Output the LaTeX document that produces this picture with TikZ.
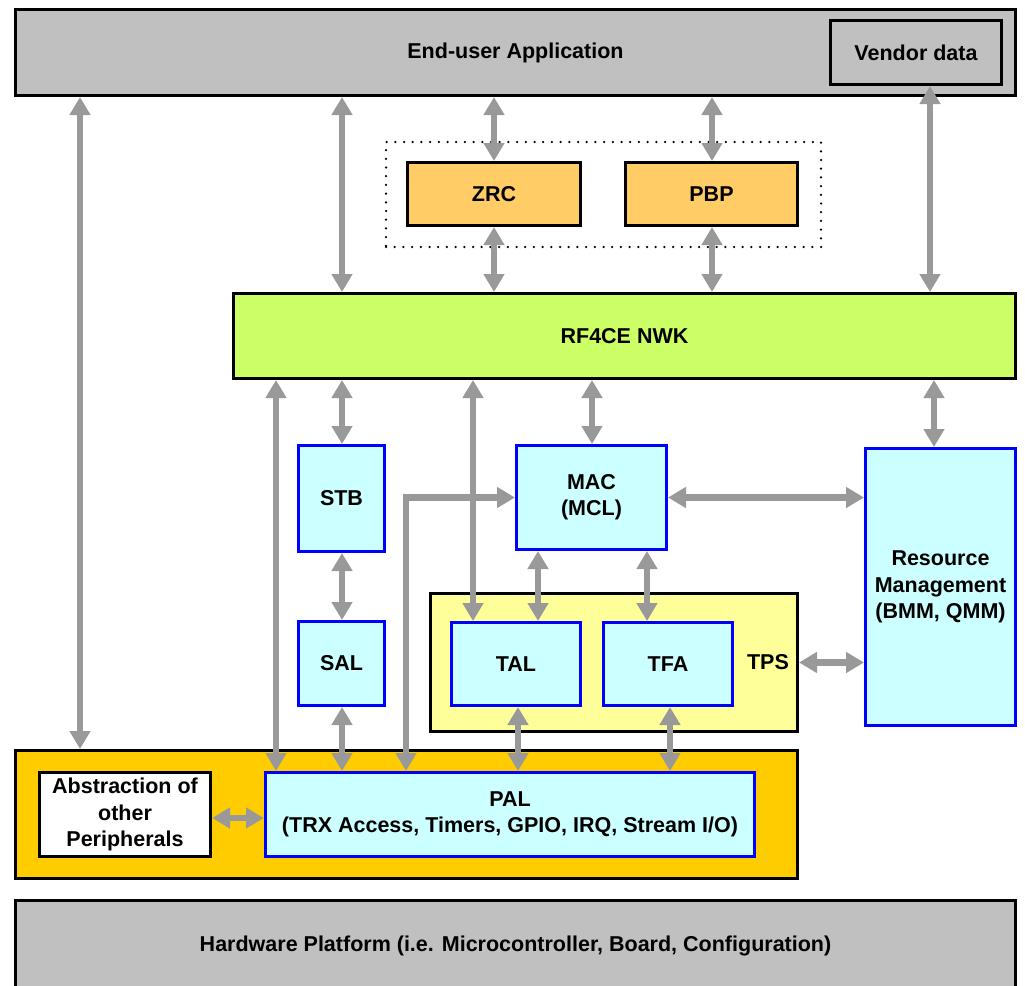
\documentclass[tikz,border=0pt]{standalone}
\usepackage{fontspec}
\setmainfont{Liberation Sans}
\usetikzlibrary{arrows.meta}
\definecolor{appgray}{HTML}{C0C0C0}
\definecolor{zrcorange}{HTML}{FFCC66}
\definecolor{nwkgreen}{HTML}{CCFF66}
\definecolor{lcyan}{HTML}{CCFFFF}
\definecolor{bblue}{HTML}{0000FF}
\definecolor{tpsyellow}{HTML}{FFFF99}
\definecolor{baseorange}{HTML}{FFCC00}
\definecolor{arrgray}{HTML}{999999}
\begin{document}
\begin{tikzpicture}[x=1pt,y=-1pt,
  box/.style={draw=black, line width=3pt, inner sep=0pt, align=center, text=black,
    font=\fontsize{21.5}{26.3}\selectfont\bfseries},
  bluebox/.style={box, draw=bblue, fill=lcyan},
  arr/.style={draw=arrgray, line width=6.5pt,
    {Triangle[length=18pt,width=20pt]}-{Triangle[length=18pt,width=20pt]}},
  grpbox/.style={draw=black, line width=2.5pt, line cap=round, dash pattern=on 0pt off 8.7pt, inner sep=0pt}
]
\useasboundingbox (0,0) rectangle (1025,985);
% boxes
\node[box, fill=appgray, minimum width=1000pt, minimum height=86pt] (app) at (515.5,52.5) {End-user Application};
\node[box, fill=appgray, minimum width=171pt, minimum height=64pt] (vendor) at (916,52.5) {Vendor data};
\node[grpbox, minimum width=435pt, minimum height=105pt] (grp) at (603.5,194.5) {};
\node[box, fill=zrcorange, minimum width=173pt, minimum height=63pt] (zrc) at (494,194) {ZRC};
\node[box, fill=zrcorange, minimum width=172pt, minimum height=63pt] (pbp) at (711.5,194) {PBP};
\node[box, fill=nwkgreen, minimum width=782pt, minimum height=85pt] (nwk) at (624.5,336) {RF4CE NWK};
\node[bluebox, minimum width=86pt, minimum height=106pt] (stb) at (341.5,498.5) {STB};
\node[bluebox, minimum width=86pt, minimum height=84pt] (sal) at (341.5,663.5) {SAL};
\node[bluebox, minimum width=150pt, minimum height=104pt] (mac) at (591.5,497.5) {MAC\\(MCL)};
\node[bluebox, minimum width=150pt, minimum height=277pt] (rm) at (940.5,587) {Resource\\Management\\(BMM, QMM)};
\node[box, fill=tpsyellow, minimum width=367pt, minimum height=138pt] (tps) at (614,662.5) {};
\node[box, draw=none, fill=none] (tpslbl) at (768,662) {TPS};
\node[bluebox, minimum width=129pt, minimum height=83pt] (tal) at (516,664) {TAL};
\node[bluebox, minimum width=129pt, minimum height=83pt] (tfa) at (668,664) {TFA};
\node[box, fill=baseorange, minimum width=782pt, minimum height=128pt] (base) at (406.5,814.5) {};
\node[box, fill=white, minimum width=171pt, minimum height=84pt] (abs) at (125,814.5) {Abstraction of\\other\\Peripherals};
\node[bluebox, minimum width=489pt, minimum height=84pt] (pal) at (510,814.5) {PAL\\(TRX Access, Timers, GPIO, IRQ, Stream I/O)};
\node[box, fill=appgray, minimum width=1000pt, minimum height=92pt] (hw) at (515.5,946) {Hardware Platform (i.e. Microcontroller, Board, Configuration)};
% connectors
\draw[arr] (80,0 |- app.south) -- (80,0 |- base.north);
\draw[arr] (342,0 |- app.south) -- (342,0 |- nwk.north);
\draw[arr] (494,0 |- app.south) -- (494,0 |- zrc.north);
\draw[arr] (494,0 |- zrc.south) -- (494,0 |- nwk.north);
\draw[arr] (712,0 |- app.south) -- (712,0 |- pbp.north);
\draw[arr] (712,0 |- pbp.south) -- (712,0 |- nwk.north);
\draw[arr] (930,0 |- vendor.south) -- (930,0 |- nwk.north);
\draw[arr] (406,0 |- pal.north) |- (mac.west);
\draw[arr] (276,0 |- nwk.south) -- (276,0 |- pal.north);
\draw[arr] (342,0 |- nwk.south) -- (342,0 |- stb.north);
\draw[arr] (342,0 |- stb.south) -- (342,0 |- sal.north);
\draw[arr] (342,0 |- sal.south) -- (342,0 |- pal.north);
\draw[arr] (473,0 |- nwk.south) -- (473,0 |- tal.north);
\draw[arr] (592,0 |- nwk.south) -- (592,0 |- mac.north);
\draw[arr] (934,0 |- nwk.south) -- (934,0 |- rm.north);
\draw[arr] (538,0 |- mac.south) -- (538,0 |- tal.north);
\draw[arr] (647,0 |- mac.south) -- (647,0 |- tfa.north);
\draw[arr] (518,0 |- tal.south) -- (518,0 |- pal.north);
\draw[arr] (670,0 |- tfa.south) -- (670,0 |- pal.north);
\draw[arr] (mac.east) -- (rm.west |- mac.east);
\draw[arr] (tps.east) -- (rm.west |- tps.east);
\draw[arr] (abs.east |- 0,818) -- (pal.west |- 0,818);
\end{tikzpicture}
\end{document}
